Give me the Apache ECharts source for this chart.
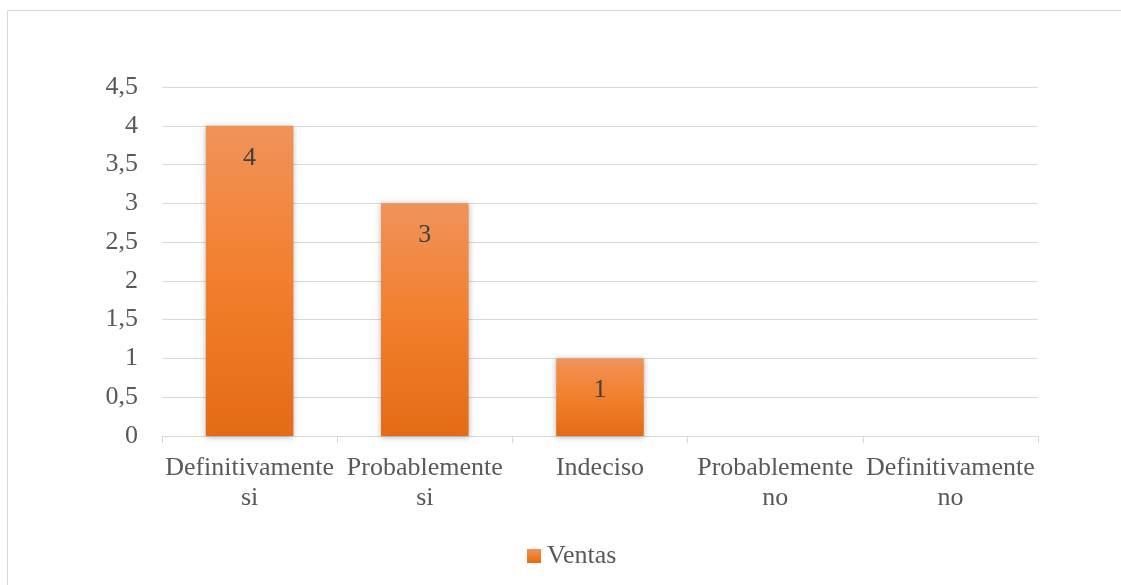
<!DOCTYPE html>
<html><head><meta charset="utf-8">
<script src="https://cdn.jsdelivr.net/npm/echarts@6/dist/echarts.min.js"></script>
<style>html,body{margin:0;padding:0;background:#fff}#c{width:1121px;height:585px}</style>
</head><body><div id="c"></div>
<script>
const categories = ['Definitivamente\nsi', 'Probablemente\nsi', 'Indeciso', 'Probablemente\nno', 'Definitivamente\nno'];
const ventas = [4, 3, 1, 0, 0];
const seriesName = 'Ventas';
const font = '"Liberation Serif", "Times New Roman", serif';
const chart = echarts.init(document.getElementById('c'));
chart.setOption({
  animation: false,
  textStyle: { fontFamily: font },
  graphic: [{ type: 'rect', shape: { x: 7.5, y: 10.5, width: 1130, height: 600 }, style: { fill: 'none', stroke: '#d9d9d9', lineWidth: 1 }, silent: true }],
  grid: { left: 162, right: 83, top: 87, bottom: 149, containLabel: false },
  legend: { top: 538, left: 522, icon: 'rect', itemWidth: 14, itemHeight: 14, itemGap: 6,
    textStyle: { fontFamily: font, fontSize: 26, color: '#595959', padding: [0, 0, 0, 1] }, data: [seriesName] },
  xAxis: { type: 'category', data: categories,
    axisLine: { lineStyle: { color: '#d9d9d9', width: 1 } },
    axisTick: { show: true, length: 7, lineStyle: { color: '#d9d9d9' } },
    axisLabel: { fontFamily: font, fontSize: 26, color: '#595959', lineHeight: 30, margin: 17, interval: 0 } },
  yAxis: { type: 'value', min: 0, max: 4.5, interval: 0.5,
    axisLine: { show: false }, axisTick: { show: false },
    splitLine: { lineStyle: { color: '#d9d9d9', width: 1 } },
    axisLabel: { fontFamily: font, fontSize: 26, color: '#595959', margin: 24, formatter: v => String(v).replace('.', ',') } },
  series: [{ name: seriesName, type: 'bar', data: ventas, barWidth: '50%',
    itemStyle: { color: new echarts.graphic.LinearGradient(0, 0, 0, 1, [{ offset: 0, color: '#f0935a' }, { offset: 0.5, color: '#f27f2c' }, { offset: 1, color: '#e46b16' }]),
      shadowColor: 'rgba(0,0,0,0.3)', shadowBlur: 6, shadowOffsetX: 0, shadowOffsetY: 1 },
    label: { show: true, position: 'insideTop', distance: 19, fontFamily: font, fontSize: 26, color: '#404040',
      formatter: p => p.value > 0 ? String(p.value) : '' } }]
});
</script></body></html>
